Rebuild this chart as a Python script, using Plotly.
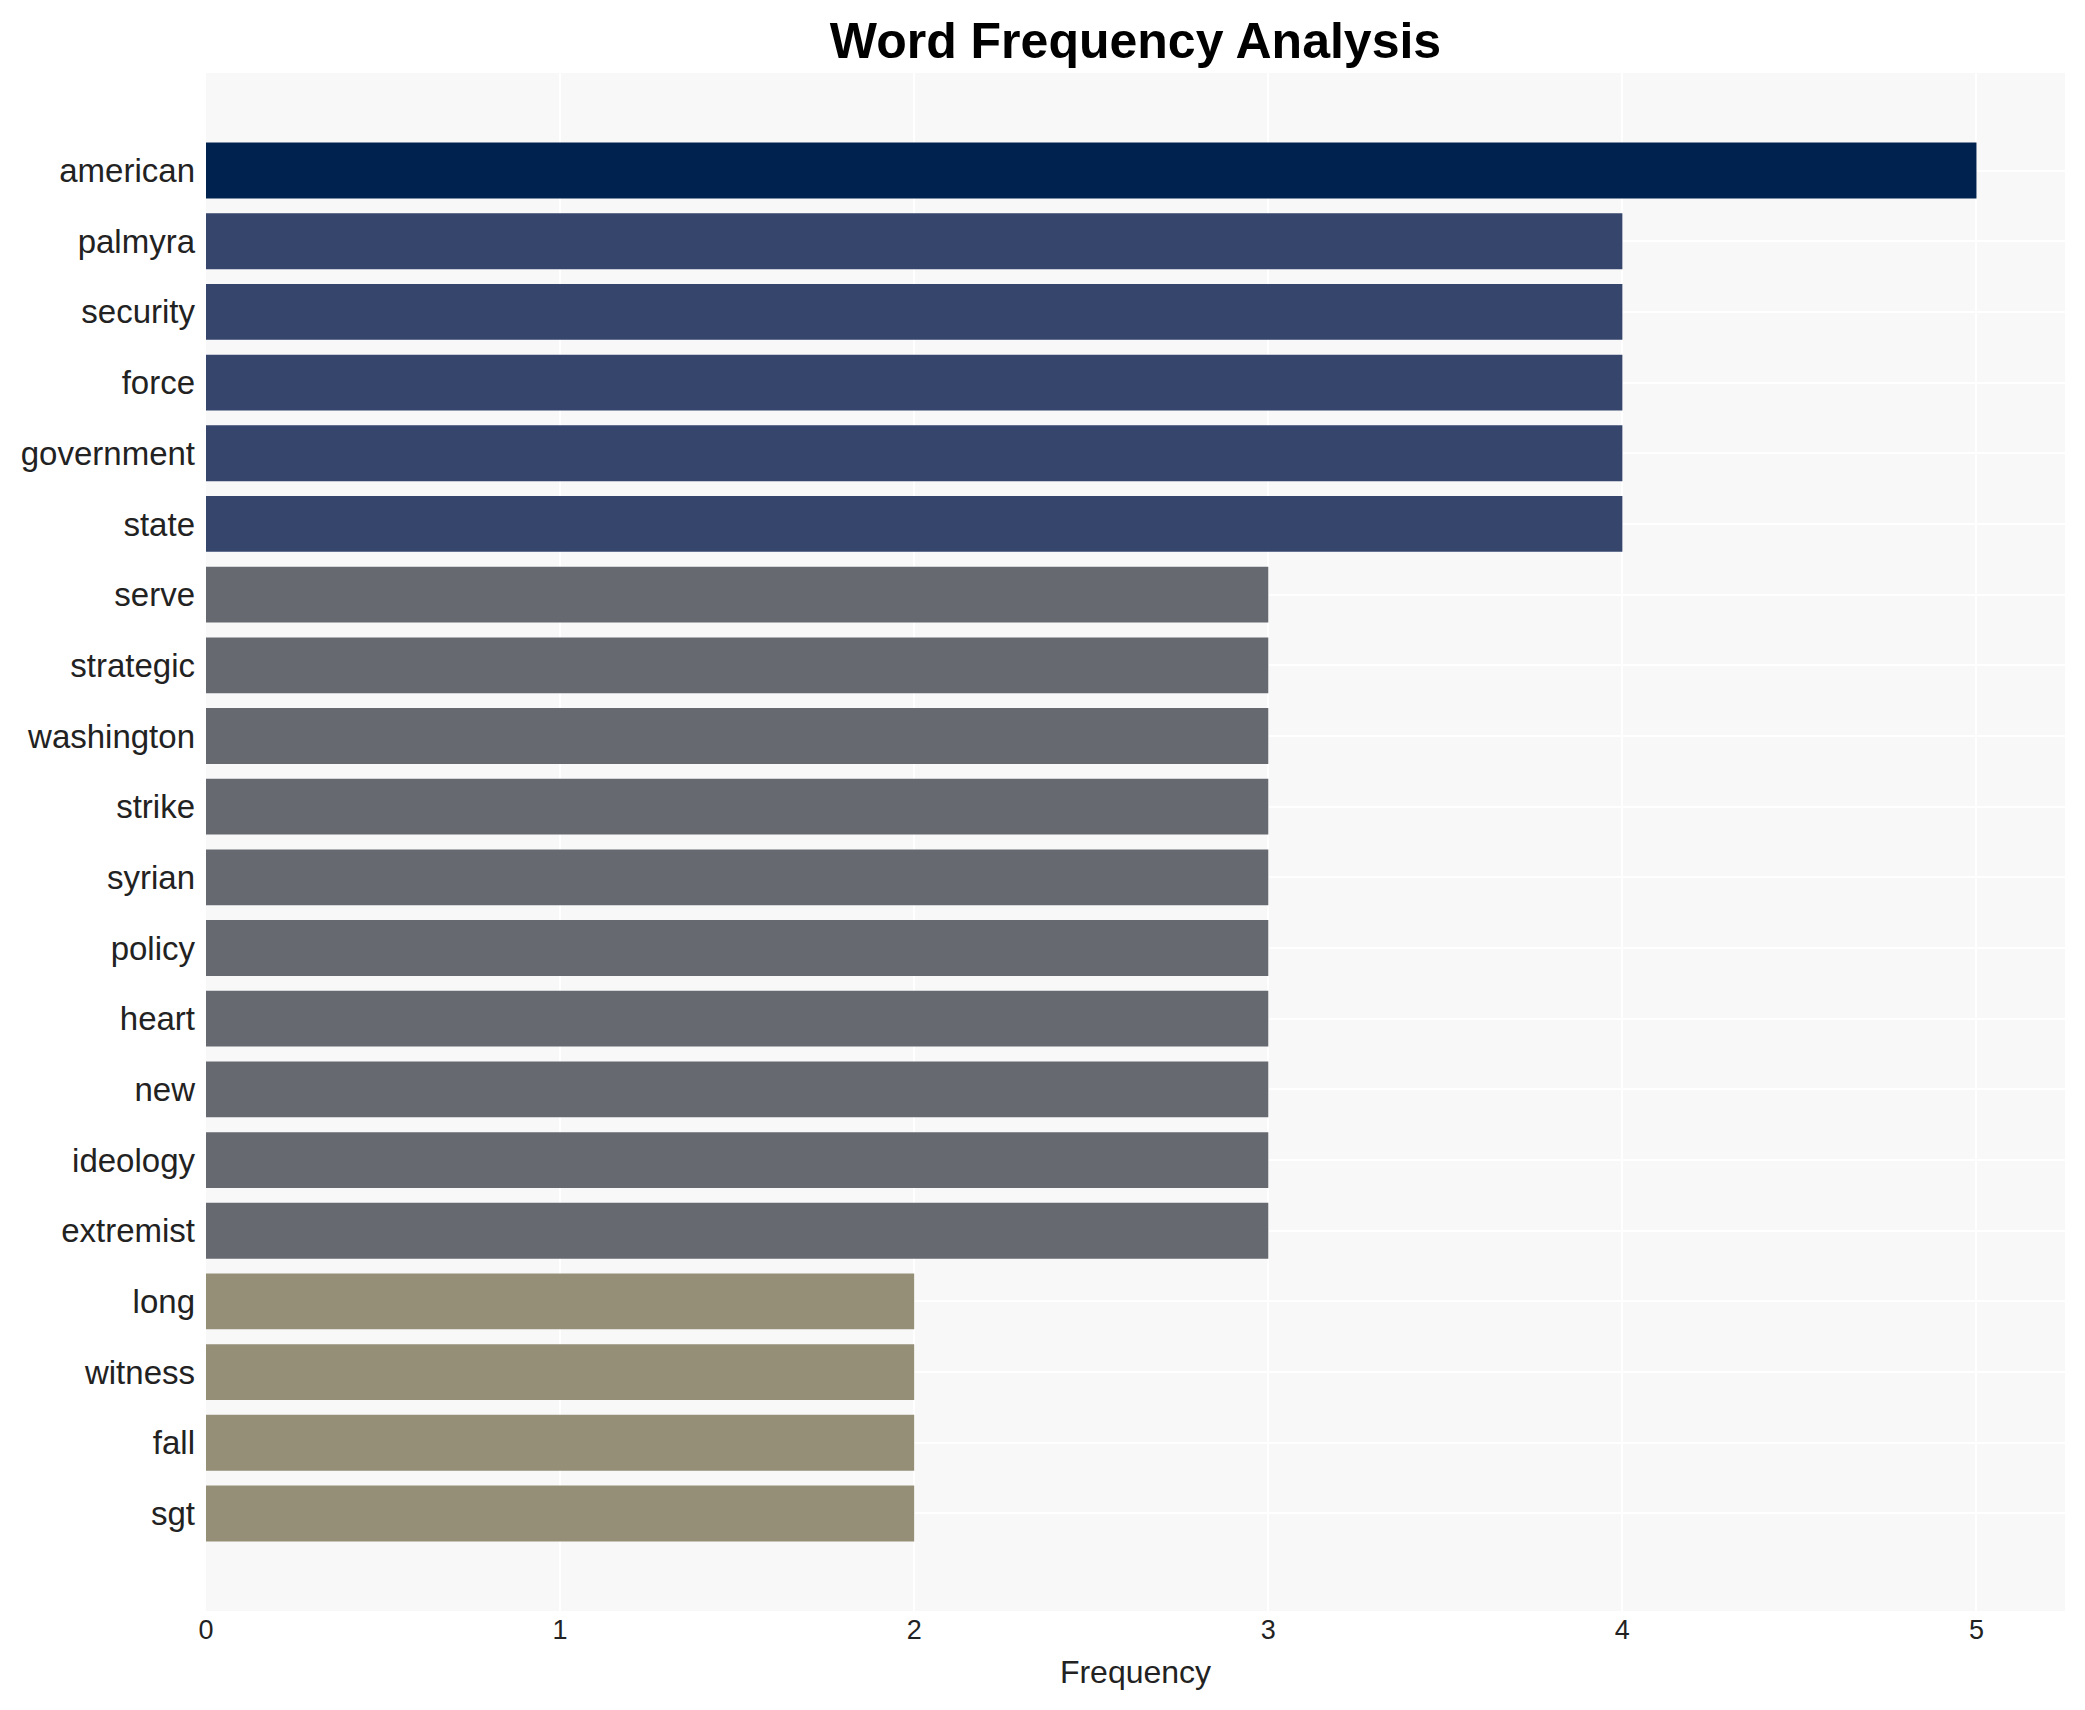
import plotly.graph_objects as go

words = ["american", "palmyra", "security", "force", "government", "state",
         "serve", "strategic", "washington", "strike", "syrian", "policy",
         "heart", "new", "ideology", "extremist", "long", "witness", "fall", "sgt"]
freqs = [5, 4, 4, 4, 4, 4, 3, 3, 3, 3, 3, 3, 3, 3, 3, 3, 2, 2, 2, 2]
color_by_freq = {5: "#00224e", 4: "#35456c", 3: "#666970", 2: "#958f78"}
x_ticks = [0, 1, 2, 3, 4, 5]

colors = [color_by_freq[f] for f in freqs]
FONT = "Liberation Sans, Arial, Helvetica, sans-serif"

W, H = 2069, 1694

fig = go.Figure(go.Bar(
    x=freqs, y=words, orientation="h",
    marker=dict(color=colors, line=dict(width=0)),
))

n = len(words)
pad = 1.38
fig.update_layout(
    width=W, height=H,
    margin=dict(l=198, r=12, t=65, b=91),
    paper_bgcolor="white", plot_bgcolor="#f8f8f8",
    bargap=0.21,
    showlegend=False,
    title=dict(text="<b>Word Frequency Analysis</b>", x=0.5, xref="paper",
               xanchor="center", y=1 - 32 / H, yanchor="middle",
               font=dict(family=FONT, size=50, color="black")),
    font=dict(family=FONT, color="#222222"),
)
fig.update_xaxes(
    range=[0, 5.25], tickvals=x_ticks, ticktext=[str(v) for v in x_ticks],
    showgrid=True, gridcolor="white", gridwidth=2, zeroline=False,
    tickfont=dict(size=27, color="#222222"),
    title=dict(text="Frequency", font=dict(size=32, color="#222222"), standoff=16),
    ticks="", showline=False,
)
fig.update_yaxes(
    categoryorder="array", categoryarray=words,
    range=[n - 1 + pad, -pad],
    showgrid=True, gridcolor="white", gridwidth=2, zeroline=False,
    tickfont=dict(size=33, color="#222222"),
    ticks="", showline=False, ticklabelstandoff=10,
)

fig.write_html("out.html")
